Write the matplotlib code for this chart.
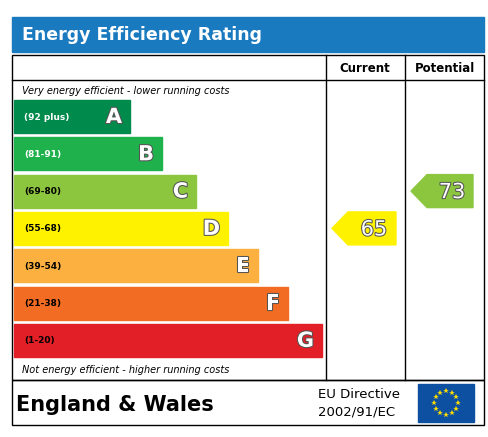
import matplotlib
matplotlib.use("Agg")
import matplotlib.pyplot as plt
from matplotlib.patches import Rectangle, Polygon
import numpy as np

letters = ["A", "B", "C", "D", "E", "F", "G"]
ranges = ["(92 plus)", "(81-91)", "(69-80)", "(55-68)", "(39-54)", "(21-38)", "(1-20)"]
colors = ["#008a4b", "#1fb14b", "#8cc63f", "#fff200", "#fbb040", "#f26c23", "#e21f26"]
current = 65
potential = 73
current_band = "D"
potential_band = "C"

W, H = 489, 437
fig = plt.figure(figsize=(W/100, H/100), dpi=100)
ax = fig.add_axes([0, 0, 1, 1])
ax.set_xlim(0, W); ax.set_ylim(H, 0); ax.axis("off")

# title bar
ax.add_patch(Rectangle((12, 17), 472, 35, color="#1a7abf"))
ax.text(22, 35, "Energy Efficiency Rating", color="white", fontsize=12.5, fontweight="bold", va="center")
# main box
ax.add_patch(Rectangle((12, 55), 472, 325, fill=False, lw=1, ec="black"))
ax.plot([326, 326], [55, 380], color="black", lw=1)
ax.plot([405, 405], [55, 380], color="black", lw=1)
ax.plot([12, 484], [80, 80], color="black", lw=1)
ax.text(365, 69, "Current", ha="center", va="center", fontsize=8.5, fontweight="bold")
ax.text(445, 69, "Potential", ha="center", va="center", fontsize=8.5, fontweight="bold")
ax.text(22, 91, "Very energy efficient - lower running costs", fontsize=7, style="italic", va="center")
ax.text(22, 370, "Not energy efficient - higher running costs", fontsize=7, style="italic", va="center")

ends = [130, 162, 196, 228, 258, 288, 322]
tops = []
for i, (l, r, c) in enumerate(zip(letters, ranges, colors)):
    y0 = 100 + i * 37.3
    tops.append(y0)
    ax.add_patch(Rectangle((14, y0), ends[i] - 14, 33, color=c))
    ax.text(24, y0 + 17, r, fontsize=6.5, fontweight="bold", va="center",
            color="white" if i in (0, 1) else "black")
    ax.text(ends[i] - 8, y0 + 17, l, fontsize=15, fontweight="bold", ha="right", va="center",
            color="white", path_effects=[] if True else None)
    import matplotlib.patheffects as pe
    ax.texts[-1].set_path_effects([pe.withStroke(linewidth=1.5, foreground="#555555")])

def arrow(x0, x1, band, val):
    i = letters.index(band)
    y0 = tops[i]
    h = 33
    pts = [(x0, y0 + h/2), (x0 + 16, y0), (x1, y0), (x1, y0 + h), (x0 + 16, y0 + h)]
    ax.add_patch(Polygon(pts, color=colors[i]))
    t = ax.text((x0 + 16 + x1)/2 + 2, y0 + h/2 + 1, str(val), fontsize=15, ha="center", va="center",
                color="white")
    t.set_path_effects([pe.withStroke(linewidth=1.5, foreground="#555555")])

arrow(332, 396, current_band, current)
arrow(411, 473, potential_band, potential)

# bottom box
ax.add_patch(Rectangle((12, 380), 472, 45, fill=False, lw=1, ec="black"))
ax.text(16, 405, "England & Wales", fontsize=15, fontweight="bold", va="center")
ax.text(318, 395, "EU Directive", fontsize=9.5, va="center")
ax.text(318, 412, "2002/91/EC", fontsize=9.5, va="center")
ax.add_patch(Rectangle((418, 384), 56, 38, color="#0d4fa0"))
for k in range(12):
    a = 2*np.pi*k/12
    ax.plot(446 + 12*np.cos(a), 403 + 12*np.sin(a), marker="*", color="#ffdd00", ms=4, mew=0)

fig.savefig("out.png", dpi=100)
